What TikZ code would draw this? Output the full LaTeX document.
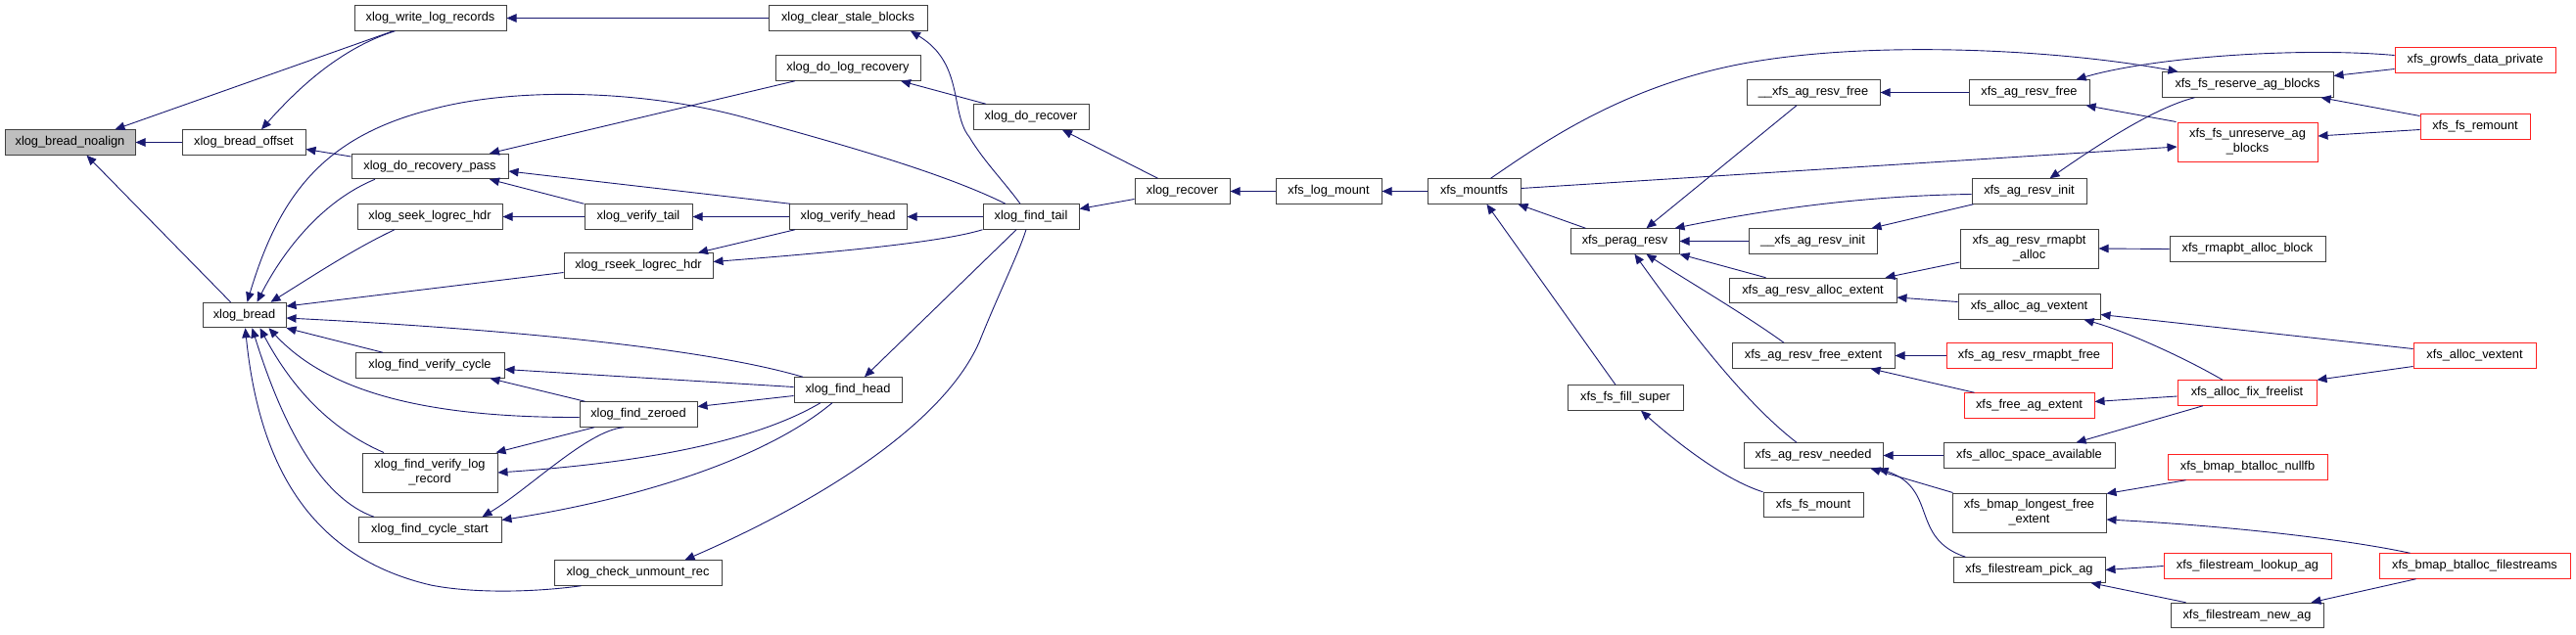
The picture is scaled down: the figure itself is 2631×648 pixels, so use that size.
\documentclass[tikz,border=0pt]{standalone}
\usepackage{fontspec}
\setmainfont{Liberation Sans}
\usepackage{tikz}
\usetikzlibrary{arrows.meta, positioning, calc}
\definecolor{edgeblue}{HTML}{191970}
\definecolor{boxline}{HTML}{404040}
\definecolor{rootfill}{HTML}{BFBFBF}
\definecolor{cutred}{HTML}{FF2020}

\begin{document}
\begin{tikzpicture}[
        x=1pt, y=-1pt,
        fn/.style={rectangle, draw=boxline, line width=1pt, fill=white, minimum height=25.5pt, inner xsep=4pt, inner ysep=0pt, font=\fontsize{12.8}{15}\selectfont},
        fntwo/.style={fn, minimum height=40pt, align=center},
        cut/.style={draw=cutred},
        root/.style={fill=rootfill},
        calls/.style={{Triangle[length=10pt,width=8.5pt]}-, draw=edgeblue, line width=0.9pt}
    ]
        \useasboundingbox (0,0) rectangle (2631,648);
        % xlog side
        \node[fn, root, minimum width=133pt] (nl) at (71.5,145.5) {xlog\_bread\_noalign};
        \node[fn, minimum width=126pt] (bo) at (249,145.5) {xlog\_bread\_offset};
        \node[fn, minimum width=85pt] (br) at (249.5,322) {xlog\_bread};
        \node[fn, minimum width=155pt] (wlr) at (439.5,18.5) {xlog\_write\_log\_records};
        \node[fn, minimum width=160pt] (drp) at (439,170) {xlog\_do\_recovery\_pass};
        \node[fn, minimum width=148pt] (slh) at (439,221.5) {xlog\_seek\_logrec\_hdr};
        \node[fn, minimum width=152pt] (fvc) at (439,373.5) {xlog\_find\_verify\_cycle};
        \node[fntwo, minimum width=138pt] (fvlr) at (439,483) {xlog\_find\_verify\_log\\\_record};
        \node[fn, minimum width=146pt] (fcs) at (439,541.5) {xlog\_find\_cycle\_start};
        \node[fn, minimum width=110pt] (vt) at (652,221.5) {xlog\_verify\_tail};
        \node[fn, minimum width=152pt] (rlh) at (652,271.5) {xlog\_rseek\_logrec\_hdr};
        \node[fn, minimum width=120pt] (fz) at (652,423.5) {xlog\_find\_zeroed};
        \node[fn, minimum width=171pt] (cur) at (651.5,585.5) {xlog\_check\_unmount\_rec};
        \node[fn, minimum width=162pt] (csb) at (866,18.5) {xlog\_clear\_stale\_blocks};
        \node[fn, minimum width=148pt] (dlr) at (866,69.5) {xlog\_do\_log\_recovery};
        \node[fn, minimum width=120pt] (vh) at (866,221.5) {xlog\_verify\_head};
        \node[fn, minimum width=110pt] (fh) at (866,398.5) {xlog\_find\_head};
        \node[fn, minimum width=118pt] (dr) at (1053,119.5) {xlog\_do\_recover};
        \node[fn, minimum width=98pt] (ft) at (1053,221.5) {xlog\_find\_tail};
        \node[fn, minimum width=97pt] (rec) at (1207.5,195.5) {xlog\_recover};
        \node[fn, minimum width=108pt] (lm) at (1357,195.5) {xfs\_log\_mount};
        \node[fn, minimum width=95pt] (mfs) at (1505.5,195.5) {xfs\_mountfs};
        % xfs side
        \node[fn, minimum width=111pt] (pr) at (1659.5,246.5) {xfs\_perag\_resv};
        \node[fn, minimum width=118pt] (ffs) at (1660,406.5) {xfs\_fs\_fill\_super};
        \node[fn, minimum width=136pt] (uarf) at (1852,94.5) {\_\_xfs\_ag\_resv\_free};
        \node[fn, minimum width=131pt] (uari) at (1851.5,246.5) {\_\_xfs\_ag\_resv\_init};
        \node[fn, minimum width=171pt] (arae) at (1851.5,297) {xfs\_ag\_resv\_alloc\_extent};
        \node[fn, minimum width=166pt] (arfe) at (1852,363.5) {xfs\_ag\_resv\_free\_extent};
        \node[fn, minimum width=142pt] (arn) at (1852,465.5) {xfs\_ag\_resv\_needed};
        \node[fn, minimum width=102pt] (fsm) at (1852,516) {xfs\_fs\_mount};
        \node[fn, minimum width=123pt] (arf) at (2072.5,94.5) {xfs\_ag\_resv\_free};
        \node[fn, minimum width=117pt] (ari) at (2072.5,195.5) {xfs\_ag\_resv\_init};
        \node[fntwo, minimum width=141pt] (arra) at (2072.5,254) {xfs\_ag\_resv\_rmapbt\\\_alloc};
        \node[fn, minimum width=145pt] (aav) at (2072.5,313.5) {xfs\_alloc\_ag\_vextent};
        \node[fn, cut, minimum width=169pt] (arrf) at (2072.5,363.5) {xfs\_ag\_resv\_rmapbt\_free};
        \node[fn, cut, minimum width=133pt] (fae) at (2072.5,414.5) {xfs\_free\_ag\_extent};
        \node[fn, minimum width=175pt] (asa) at (2072.5,465.5) {xfs\_alloc\_space\_available};
        \node[fntwo, minimum width=157pt] (blfe) at (2072.5,524) {xfs\_bmap\_longest\_free\\\_extent};
        \node[fn, minimum width=155pt] (fpa) at (2072.5,582.5) {xfs\_filestream\_pick\_ag};
        \node[fn, minimum width=175pt] (frab) at (2295.5,86.5) {xfs\_fs\_reserve\_ag\_blocks};
        \node[fntwo, cut, minimum width=143pt] (fuab) at (2295.5,145) {xfs\_fs\_unreserve\_ag\\\_blocks};
        \node[fn, minimum width=159pt] (rab) at (2295.5,254.5) {xfs\_rmapbt\_alloc\_block};
        \node[fn, cut, minimum width=142pt] (aff) at (2295,401.5) {xfs\_alloc\_fix\_freelist};
        \node[fn, cut, minimum width=163pt] (bbn) at (2295.5,477.5) {xfs\_bmap\_btalloc\_nullfb};
        \node[fn, cut, minimum width=171pt] (fla) at (2295.5,578.5) {xfs\_filestream\_lookup\_ag};
        \node[fn, minimum width=156pt] (fna) at (2295,629) {xfs\_filestream\_new\_ag};
        \node[fn, cut, minimum width=164pt] (gdp) at (2528,61.5) {xfs\_growfs\_data\_private};
        \node[fn, cut, minimum width=112pt] (frm) at (2528,129.5) {xfs\_fs\_remount};
        \node[fn, cut, minimum width=125pt] (av) at (2527.5,363.5) {xfs\_alloc\_vextent};
        \node[fn, cut, minimum width=195pt] (bbf) at (2527.5,578.5) {xfs\_bmap\_btalloc\_filestreams};

        % callers of the xlog nodes
        \draw[calls] (nl.east) -- (bo.west);
        \draw[calls] ([xshift=46pt]nl.north) -- ([xshift=-38pt]wlr.south);
        \draw[calls] ([xshift=17pt]nl.south) -- ([xshift=-14pt]br.north);
        \draw[calls] ([xshift=18pt]bo.north) .. controls (300,95) and (345,50) .. ([xshift=-36pt]wlr.south);
        \draw[calls] ([yshift=-7pt]bo.east) -- ([yshift=10pt]drp.west);
        \draw[calls] (wlr.east) -- (csb.west);
        \draw[calls] ([xshift=3pt]br.north) .. controls (285,200) and (330,140) .. (440,112) .. controls (520,90) and (650,90) .. (760,120) .. controls (850,145) and (960,175) .. ([xshift=-26pt]ft.north);
        \draw[calls] ([xshift=13pt]br.north) .. controls (290,255) and (330,205) .. ([xshift=-56pt]drp.south);
        \draw[calls] ([xshift=27pt]br.north) .. controls (315,285) and (360,255) .. ([xshift=-36pt]slh.south);
        \draw[calls] ([yshift=9pt]br.east) -- ([yshift=-7pt]rlh.west);
        \draw[calls] ([yshift=-3pt]br.east) .. controls (450,333) and (700,350) .. ([xshift=-46pt]fh.north);
        \draw[calls] (br.south east) -- ([xshift=-48pt]fvc.north);
        \draw[calls] ([xshift=25pt]br.south) .. controls (330,395) and (420,427) .. ([yshift=-3pt]fz.west);
        \draw[calls] ([xshift=16pt]br.south) .. controls (300,400) and (340,440) .. ([xshift=-47pt]fvlr.north);
        \draw[calls] ([xshift=8pt]br.south) .. controls (290,440) and (330,510) .. ([xshift=-57pt]fcs.north);
        \draw[calls] ([xshift=1pt]br.south) .. controls (265,480) and (320,570) .. (440,598) .. controls (480,606) and (540,606) .. ([xshift=-58pt]cur.south);
        \draw[calls] ([xshift=61pt]drp.north) -- ([xshift=-54pt]dlr.south);
        \draw[calls] ([yshift=-5pt]drp.east) -- ([xshift=-59pt]vh.north);
        \draw[calls] ([xshift=61pt]drp.south) -- (vt.north west);
        \draw[calls] (slh.east) -- (vt.west);
        \draw[calls] (vt.east) -- (vh.west);
        \draw[calls] ([xshift=61pt]rlh.north) -- ([xshift=-54pt]vh.south);
        \draw[calls] ([yshift=4pt]rlh.east) .. controls (850,258) and (960,248) .. (ft.south west);
        \draw[calls] (vh.east) -- (ft.west);
        \draw[calls] ([yshift=-4pt]fvc.east) -- ([yshift=3pt]fh.west);
        \draw[calls] ([xshift=-15pt]fvc.south east) -- ([xshift=6pt]fz.north west);
        \draw[calls] ([yshift=8pt]fz.east) -- ([yshift=-6pt]fh.west);
        \draw[calls] ([xshift=-2pt]fvlr.north east) -- ([xshift=-45pt]fz.south);
        \draw[calls] (fvlr.east) .. controls (700,470) and (790,440) .. ([xshift=-28pt]fh.south);
        \draw[calls] ([xshift=-20pt]fcs.north east) .. controls (540,500) and (600,440) .. ([xshift=-15pt]fz.south);
        \draw[calls] ([yshift=10pt]fcs.east) .. controls (650,510) and (780,470) .. ([xshift=-16pt]fh.south);
        \draw[calls] ([xshift=17pt]fh.north) -- ([xshift=-15pt]ft.south);
        \draw[calls] ([xshift=48pt]cur.north) .. controls (820,520) and (960,440) .. (1000,350) .. controls (1020,300) and (1040,260) .. ([xshift=-5pt]ft.south);
        \draw[calls] ([xshift=64pt]csb.south) .. controls (985,65) and (970,115) .. (990,140) .. controls (1005,165) and (1025,185) .. ([xshift=-11pt]ft.north);
        \draw[calls] ([xshift=54pt]dlr.south) -- ([xshift=-46pt]dr.north);
        \draw[calls] ([xshift=32pt]dr.south) -- ([xshift=-25pt]rec.north);
        \draw[calls] ([yshift=8pt]ft.east) -- ([yshift=-8pt]rec.west);
        \draw[calls] (rec.east) -- (lm.west);
        \draw[calls] (lm.east) -- (mfs.west);

        % callers of the xfs nodes
        \draw[calls] ([xshift=45pt]mfs.south) -- ([xshift=-40pt]pr.north);
        \draw[calls] ([xshift=13pt]mfs.south) -- ([xshift=-10pt]ffs.north);
        \draw[calls] ([xshift=17pt]frab.north west) .. controls (2100,50) and (1900,40) .. (1770,67) .. controls (1650,92) and (1570,150) .. ([xshift=17pt]mfs.north);
        \draw[calls] ([yshift=-5pt]fuab.west) -- ([yshift=3pt]mfs.east);
        \draw[calls] ([xshift=22pt]pr.north) -- ([xshift=-17pt]uarf.south);
        \draw[calls] ([xshift=-5pt]pr.north east) .. controls (1800,215) and (1900,200) .. ([yshift=-3pt]ari.west);
        \draw[calls] (pr.east) -- (uari.west);
        \draw[calls] (pr.south east) -- ([xshift=-48pt]arae.north);
        \draw[calls] ([xshift=22pt]pr.south) .. controls (1720,285) and (1780,320) .. ([xshift=-30pt]arfe.north);
        \draw[calls] ([xshift=10pt]pr.south) .. controls (1720,330) and (1780,410) .. ([xshift=-17pt]arn.north);
        \draw[calls] ([xshift=16pt]ffs.south) .. controls (1710,450) and (1760,490) .. (fsm.north west);
        \draw[calls] (uarf.east) -- (arf.west);
        \draw[calls] ([xshift=-6pt]uari.north east) -- ([xshift=-57pt]ari.south);
        \draw[calls] ([xshift=-12pt]arae.north east) -- ([yshift=-14pt]arra.west);
        \draw[calls] ([yshift=-7pt]arae.east) -- ([yshift=5pt]aav.west);
        \draw[calls] (arra.east) -- (rab.west);
        \draw[calls] ([xshift=-14pt]arf.north east) .. controls (2200,58) and (2350,48) .. ([yshift=5pt]gdp.west);
        \draw[calls] ([xshift=-4pt]arf.south east) -- ([xshift=-1pt]fuab.north west);
        \draw[calls] ([xshift=21pt]ari.north) .. controls (2140,150) and (2200,110) .. ([xshift=34pt]frab.south west);
        \draw[calls] ([yshift=9pt]frab.east) -- ([yshift=-9pt]gdp.west);
        \draw[calls] ([xshift=-13pt]frab.south east) -- ([yshift=11pt]frm.west);
        \draw[calls] ([yshift=6pt]fuab.east) -- ([yshift=-3pt]frm.west);
        \draw[calls] ([yshift=-8pt]aav.east) -- ([yshift=7pt]av.west);
        \draw[calls] ([xshift=-17pt]aav.south east) .. controls (2170,338) and (2230,365) .. ([xshift=-25pt]aff.north);
        \draw[calls] (aff.north east) -- ([yshift=-11pt]av.west);
        \draw[calls] (arfe.east) -- (arrf.west);
        \draw[calls] ([xshift=-25pt]arfe.south east) -- ([xshift=11pt]fae.north west);
        \draw[calls] ([yshift=4pt]fae.east) -- ([yshift=-3.5pt]aff.west);
        \draw[calls] ([xshift=48pt]asa.north) -- ([xshift=-45pt]aff.south);
        \draw[calls] (arn.east) -- (asa.west);
        \draw[calls] ([xshift=-13pt]arn.south east) -- ([xshift=1pt]blfe.north west);
        \draw[calls] ([xshift=-5pt]arn.south east) .. controls (1980,500) and (1950,550) .. ([xshift=13pt]fpa.north west);
        \draw[calls] ([yshift=-1pt]blfe.north east) -- ([xshift=19pt]bbn.south west);
        \draw[calls] ([yshift=-7pt]blfe.east) .. controls (2250,536) and (2380,548) .. ([xshift=32pt]bbf.north west);
        \draw[calls] (fpa.east) -- (fla.west);
        \draw[calls] ([xshift=-15pt]fpa.south east) -- ([xshift=16pt]fna.north west);
        \draw[calls] ([xshift=-13pt]fna.north east) -- ([xshift=38pt]bbf.south west);
    \end{tikzpicture}
\end{document}
